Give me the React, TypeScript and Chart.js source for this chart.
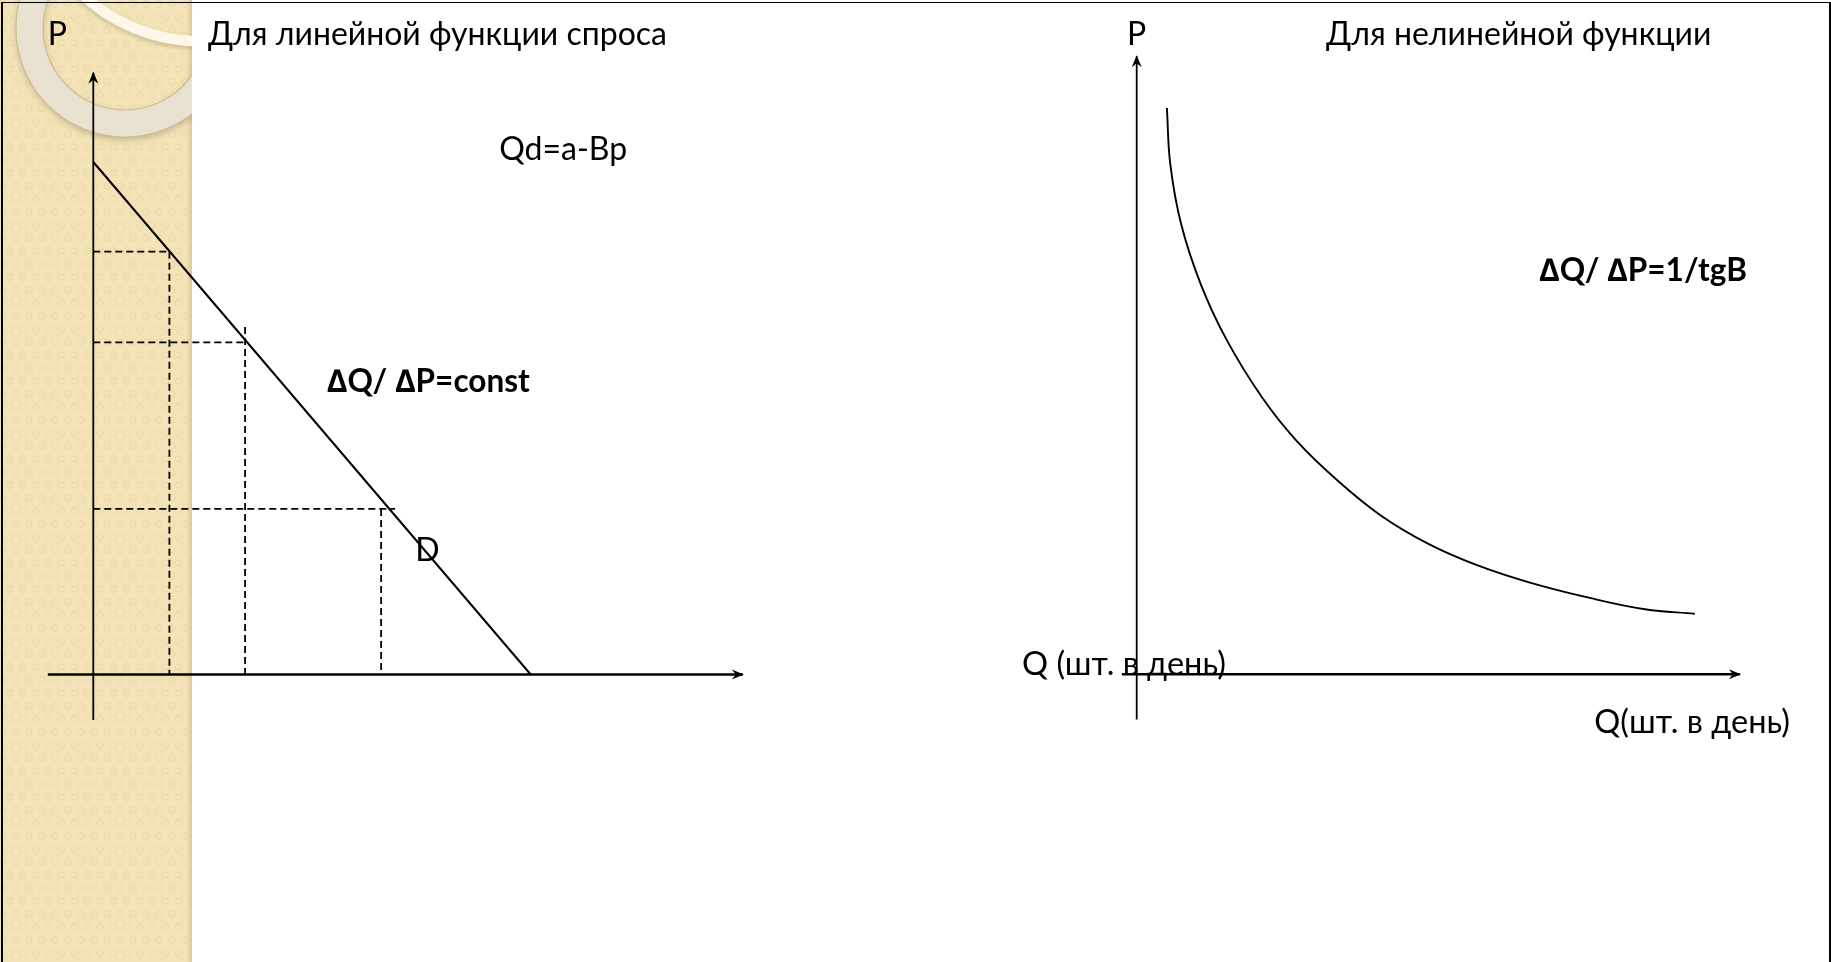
import React, { useEffect, useRef } from "react";
import { Chart, registerables } from "chart.js";

Chart.register(...registerables);

// ---------- DATA: left panel (linear demand) ----------
const linearQ = [0, 10];
const linearP = [10, 0];
// dashed guide levels (price) and the quantities they meet
const guidePrice = [8.25, 6.48, 3.23];
const guideHorizEndQ = [1.74, 3.5, 6.9];
const guideVertQ = [1.74, 3.47, 6.58];
const guideVertTopP = [8.25, 6.78, 3.23];
// axis spans (Q, P)
const leftQAxis = [-1.04, 14.85];
const leftPAxis = [-0.89, 11.74];

// ---------- DATA: right panel (nonlinear demand) ----------
const curveQ = [0.69, 0.77, 1.02, 1.47, 2.06, 2.86, 3.64, 4.58, 5.58, 6.68, 7.78, 8.99, 10.36, 11.62, 12.76];
const curveP = [11.05, 9.94, 8.77, 7.6, 6.52, 5.41, 4.57, 3.79, 3.1, 2.54, 2.13, 1.79, 1.49, 1.27, 1.18];
const rightQAxis = [-0.34, 13.79];
const rightPAxis = [-0.88, 12.06];

// ---------- TEXT ----------
const leftTexts = ["P", "Для линейной функции спроса", "Qd=a-Bp", "∆Q/ ∆P=const", "D"];
const leftTextQ = [-1.04, 2.62, 9.28, 5.34, 7.36];
const leftTextP = [12.28, 12.28, 10.04, 5.51, 2.21];
const leftTextKind = ["big", "big", "mid", "bold", "big"];

const rightTexts = ["P", "Для нелинейной функции", "∆Q/ ∆P=1/tgB", "Q (шт. в день)", "Q(шт. в день)"];
const rightTextQ = [-0.22, 4.33, 9.2, -2.62, 10.46];
const rightTextP = [12.28, 12.28, 7.67, -0.02, -1.15];
const rightTextKind = ["big", "big", "bold", "qlab", "qlab"];

// ---------- styling / layout ----------
const FONT = "Lato, 'Noto Sans', 'Open Sans', sans-serif";
const FONTS: Record<string, string> = {
  big: `32px ${FONT}`,
  mid: `32px ${FONT}`,
  bold: `bold 31.5px ${FONT}`,
  qlab: `32.5px ${FONT}`,
};
const W = 1831;
const H = 962;
const SPLIT = 915;
const UNIT_X = 43.74; // px per Q unit
const UNIT_Y = 51.25; // px per P unit
const LEFT_ORIGIN = [93.3, 674.5];
const RIGHT_ORIGIN = [1136.7 - SPLIT, 674.3];

function pts(xs: number[], ys: number[]) {
  return xs.map((x, i) => ({ x, y: ys[i] }));
}

function lineDs(data: { x: number; y: number }[], extra: any = {}) {
  return {
    data,
    showLine: true,
    borderColor: "#000",
    backgroundColor: "#000",
    borderWidth: 2,
    pointRadius: 0,
    pointHoverRadius: 0,
    tension: 0,
    fill: false,
    clip: false,
    ...extra,
  };
}

const arrowPlugin = {
  id: "arrowHeads",
  afterDatasetsDraw(chart: any) {
    const ctx = chart.ctx;
    chart.data.datasets.forEach((ds: any, i: number) => {
      if (!ds.arrowHead) return;
      const meta = chart.getDatasetMeta(i);
      const n = meta.data.length;
      const a = meta.data[n - 2];
      const b = meta.data[n - 1];
      const ang = Math.atan2(b.y - a.y, b.x - a.x);
      ctx.save();
      ctx.translate(b.x, b.y);
      ctx.rotate(ang);
      ctx.fillStyle = "#000";
      ctx.beginPath();
      ctx.moveTo(1, 0);
      ctx.lineTo(-11, -5);
      ctx.lineTo(-7, 0);
      ctx.lineTo(-11, 5);
      ctx.closePath();
      ctx.fill();
      ctx.restore();
    });
  },
};

function textPlugin(texts: string[], qs: number[], ps: number[], kinds: string[]) {
  return {
    id: "slideTexts",
    afterDatasetsDraw(chart: any) {
      const { ctx, scales } = chart;
      ctx.save();
      ctx.fillStyle = "#000";
      ctx.textAlign = "left";
      ctx.textBaseline = "alphabetic";
      texts.forEach((t, i) => {
        ctx.font = FONTS[kinds[i]];
        ctx.fillText(t, scales.x.getPixelForValue(qs[i]), scales.y.getPixelForValue(ps[i]));
      });
      ctx.restore();
    },
  };
}

const stripPlugin = {
  id: "stripBackground",
  beforeDraw(chart: any) {
    const ctx = chart.ctx;
    const sw = 192;
    ctx.save();
    ctx.beginPath();
    ctx.rect(0, 0, sw, H);
    ctx.clip();
    ctx.fillStyle = "#F3E3B7";
    ctx.fillRect(0, 0, sw, H);
    // subtle motif texture
    ctx.strokeStyle = "rgba(205,178,115,0.22)";
    ctx.lineWidth = 1;
    for (let y = 4, r = 0; y < H; y += 13, r++) {
      for (let x = (r % 2) * 6.5 + 3; x < sw; x += 13) {
        ctx.beginPath();
        ctx.arc(x, y, 3.2, 0, Math.PI * 2);
        ctx.stroke();
      }
    }
    // right edge shade
    const g = ctx.createLinearGradient(sw - 6, 0, sw, 0);
    g.addColorStop(0, "rgba(210,190,140,0)");
    g.addColorStop(1, "rgba(200,180,130,0.55)");
    ctx.fillStyle = g;
    ctx.fillRect(sw - 6, 0, 6, H);
    // outer ring band
    ctx.save();
    ctx.shadowColor = "rgba(120,100,60,0.35)";
    ctx.shadowBlur = 6;
    ctx.shadowOffsetY = 3;
    ctx.beginPath();
    ctx.arc(125, 28, 109, 0, Math.PI * 2);
    ctx.arc(125, 28, 82, 0, Math.PI * 2, true);
    ctx.fillStyle = "#E9E2D0";
    ctx.fill("evenodd");
    ctx.restore();
    ctx.strokeStyle = "#CDBD98";
    ctx.lineWidth = 1.2;
    ctx.beginPath();
    ctx.arc(125, 28, 109, 0, Math.PI * 2);
    ctx.stroke();
    ctx.beginPath();
    ctx.arc(125, 28, 82, 0, Math.PI * 2);
    ctx.stroke();
    // inner light ring band
    ctx.save();
    ctx.shadowColor = "rgba(120,100,60,0.3)";
    ctx.shadowBlur = 4;
    ctx.shadowOffsetY = 2;
    ctx.beginPath();
    ctx.arc(200, -130, 177, 0, Math.PI * 2);
    ctx.arc(200, -130, 166, 0, Math.PI * 2, true);
    ctx.fillStyle = "#FCF7E8";
    ctx.fill("evenodd");
    ctx.restore();
    ctx.strokeStyle = "#D6C59C";
    ctx.lineWidth = 1;
    ctx.beginPath();
    ctx.arc(200, -130, 177, 0, Math.PI * 2);
    ctx.stroke();
    ctx.restore();
  },
};

function makeOptions(origin: number[], width: number) {
  return {
    responsive: false,
    animation: false as const,
    devicePixelRatio: 1,
    layout: { padding: 0 },
    events: [],
    plugins: { legend: { display: false }, tooltip: { enabled: false }, title: { display: false } },
    scales: {
      x: {
        type: "linear" as const,
        display: false,
        min: -origin[0] / UNIT_X,
        max: (width - origin[0]) / UNIT_X,
      },
      y: {
        type: "linear" as const,
        display: false,
        min: -(H - origin[1]) / UNIT_Y,
        max: origin[1] / UNIT_Y,
      },
    },
  };
}

function leftDatasets() {
  const ds: any[] = [];
  ds.push(lineDs(pts(leftQAxis, [0, 0]), { borderWidth: 2.4, arrowHead: true }));
  ds.push(lineDs(pts([0, 0], leftPAxis), { borderWidth: 1.8, arrowHead: true }));
  guidePrice.forEach((p, i) => {
    ds.push(lineDs(pts([0, guideHorizEndQ[i]], [p, p]), { borderWidth: 1.8, borderDash: [7, 4] }));
    ds.push(lineDs(pts([guideVertQ[i], guideVertQ[i]], [guideVertTopP[i], 0]), { borderWidth: 1.8, borderDash: [7, 4] }));
  });
  ds.push(lineDs(pts(linearQ, linearP), { borderWidth: 2 }));
  return ds;
}

function rightDatasets() {
  return [
    lineDs(pts(rightQAxis, [0, 0]), { borderWidth: 2.4, arrowHead: true }),
    lineDs(pts([0, 0], rightPAxis), { borderWidth: 1.8, arrowHead: true }),
    lineDs(pts(curveQ, curveP), { borderWidth: 1.9, tension: 0.4 }),
  ];
}

export default function App() {
  const leftRef = useRef<HTMLCanvasElement>(null);
  const rightRef = useRef<HTMLCanvasElement>(null);

  useEffect(() => {
    document.body.style.margin = "0";
    const left = new Chart(leftRef.current!, {
      type: "scatter",
      data: { datasets: leftDatasets() },
      options: makeOptions(LEFT_ORIGIN, SPLIT) as any,
      plugins: [stripPlugin, arrowPlugin, textPlugin(leftTexts, leftTextQ, leftTextP, leftTextKind)],
    });
    const right = new Chart(rightRef.current!, {
      type: "scatter",
      data: { datasets: rightDatasets() },
      options: makeOptions(RIGHT_ORIGIN, W - SPLIT) as any,
      plugins: [arrowPlugin, textPlugin(rightTexts, rightTextQ, rightTextP, rightTextKind)],
    });
    return () => {
      left.destroy();
      right.destroy();
    };
  }, []);

  return (
    <div style={{ position: "relative", width: W, height: H, overflow: "hidden", background: "#fff" }}>
      <canvas
        ref={leftRef}
        width={SPLIT}
        height={H}
        style={{ position: "absolute", left: 0, top: 0, width: SPLIT, height: H }}
      />
      <canvas
        ref={rightRef}
        width={W - SPLIT}
        height={H}
        style={{ position: "absolute", left: SPLIT, top: 0, width: W - SPLIT, height: H }}
      />
      <div
        style={{
          position: "absolute",
          left: 1,
          top: 2,
          width: W - 5,
          height: H + 10,
          borderLeft: "2px solid #000",
          borderTop: "1.5px solid #000",
          borderRight: "3px solid #000",
          pointerEvents: "none",
        }}
      />
    </div>
  );
}
